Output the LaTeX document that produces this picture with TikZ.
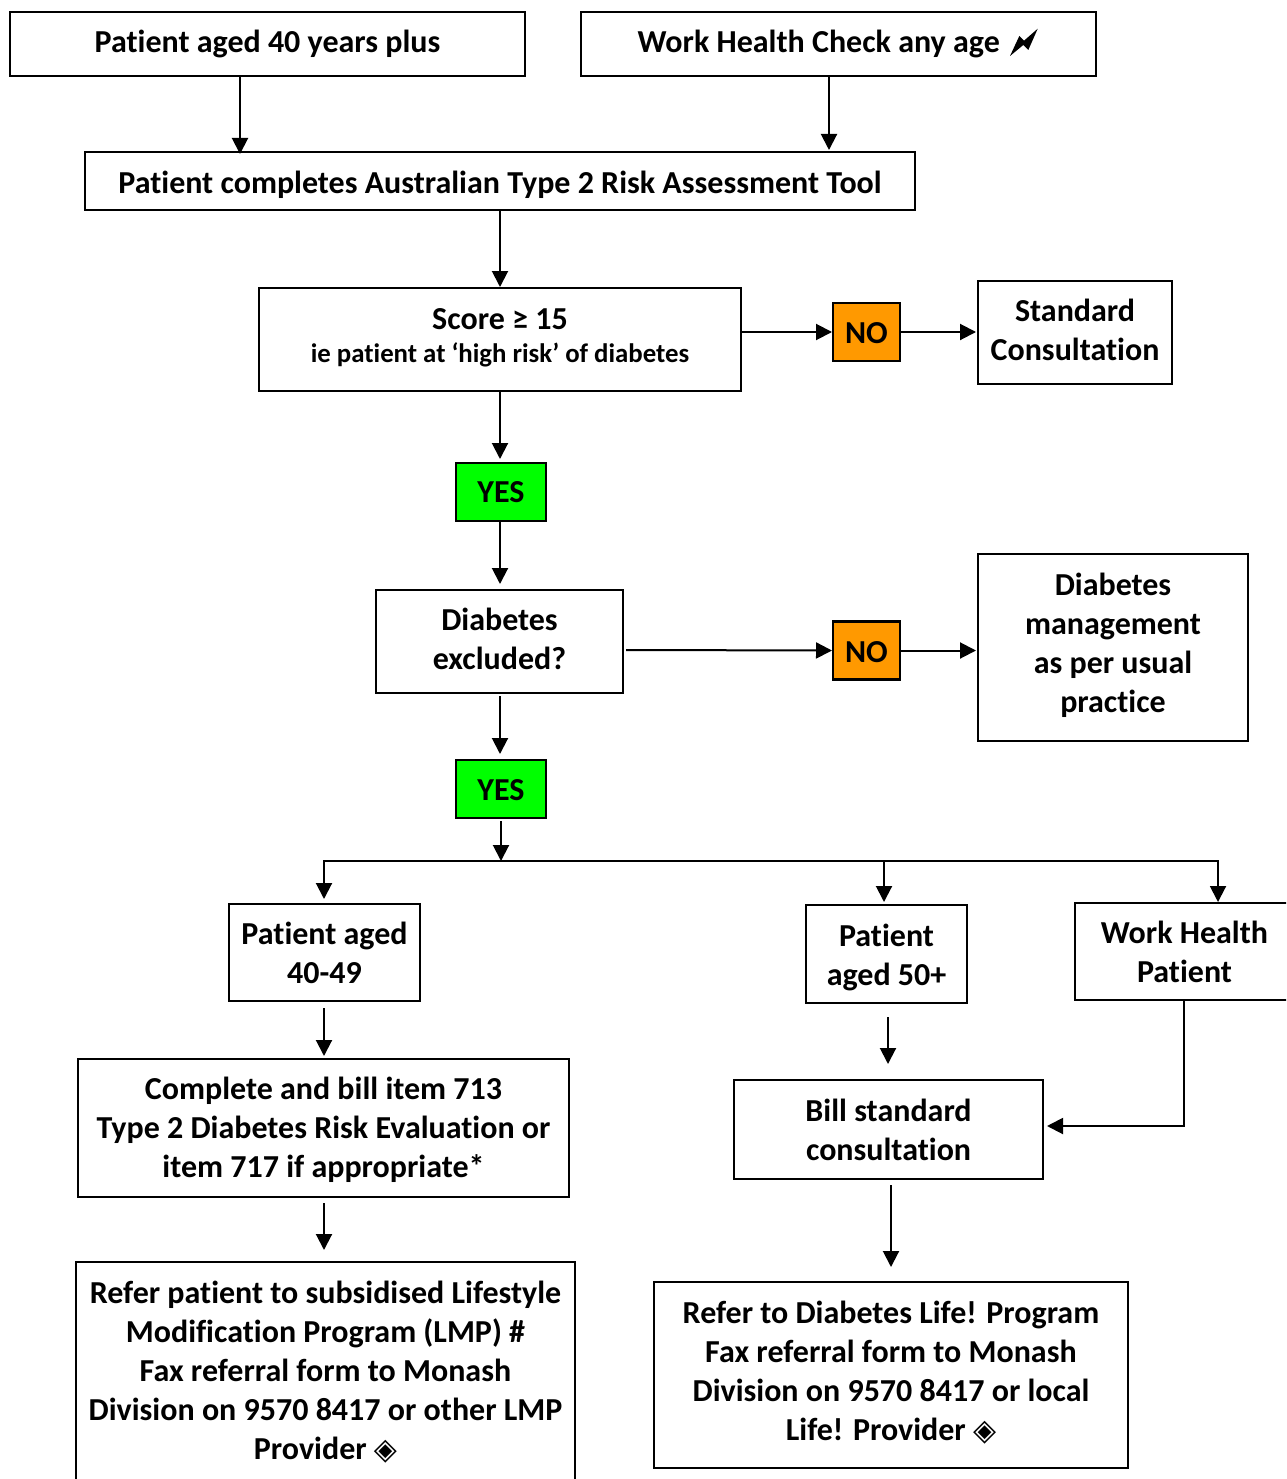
\documentclass[tikz,border=0pt]{standalone}
\usepackage{fontspec}
\setmainfont{Carlito}[RawFeature={-liga;-clig;-calt;-dlig}]
\newfontfamily\symfont{DejaVu Sans}
\usetikzlibrary{arrows.meta}
\newcommand{\dmd}{{\symfont\fontsize{30}{30}\selectfont ◈}}
\newcommand{\tx}[2]{\raisebox{\dimexpr-8pt-#1pt\relax}[0pt][0pt]{\begin{tabular}{@{}c@{}}#2\end{tabular}}}
\tikzset{
  box/.style={draw=black,line width=2.9pt,fill=white,inner sep=0pt,outer sep=0pt,align=center,font=\fontsize{32}{39}\bfseries\selectfont},
  nobox/.style={box,fill=orange1,minimum width=67pt,minimum height=58pt},
  yesbox/.style={box,fill=green1,minimum width=90pt,minimum height=58pt},
  arr/.style={draw=black,line width=2pt,-{Triangle[length=16pt,width=16pt]}},
}
\definecolor{orange1}{HTML}{FF9900}
\definecolor{green1}{HTML}{00FF00}
\begin{document}
\begin{tikzpicture}[x=1pt,y=-1pt]
\path[use as bounding box,clip] (0,0) rectangle (1286,1479);
\fill[white] (0,0) rectangle (1286,1479);
\node[box,minimum width=515pt,minimum height=64pt] (A) at (267.5,44) {\tx{-1}{Patient aged 40 years plus}};
\node[box,minimum width=515pt,minimum height=64pt] (B) at (838.5,44) {};
\node[font=\fontsize{32}{39}\bfseries\selectfont,anchor=east,inner sep=0pt] (Bt) at (1000,44) {\tx{-1}{Work Health Check any age}};
\fill[black] (1010,56) -- (1019.3,36) -- (1024,40.7) -- (1037.7,28.7) -- (1028.3,50) -- (1023.3,45) -- cycle;
\node[box,minimum width=830pt,minimum height=58pt] (C) at (500,181) {\tx{3}{Patient completes Australian Type 2 Risk Assessment Tool}};
\node[box,minimum width=482pt,minimum height=103pt] (D) at (500,339.5) {\tx{-3}{Score ≥ 15\\[-6pt]{\fontsize{26.8}{32}\selectfont ie patient at ‘high risk’ of diabetes}}};
\node[nobox] (N1) at (866.5,332) {\tx{2}{NO}};
\node[box,minimum width=194pt,minimum height=103pt] (S) at (1075,332.5) {\tx{-1}{Standard\\Consultation}};
\node[yesbox] (Y1) at (501,492) {\tx{1}{YES}};
\node[box,minimum width=247pt,minimum height=103pt] (E) at (499.5,641.5) {\tx{-1}{Diabetes\\excluded?}};
\node[nobox] (N2) at (866.5,650.5) {\tx{2}{NO}};
\node[box,minimum width=270pt,minimum height=187pt] (M) at (1113,647.5) {\tx{-3}{Diabetes\\management\\as per usual\\practice}};
\node[yesbox] (Y2) at (501,789) {\tx{2}{YES}};
\coordinate (bus) at (501,861);
\node[box,minimum width=191pt,minimum height=97pt] (P1) at (324.5,952.5) {\tx{2}{Patient aged\\40-49}};
\node[box,minimum width=161pt,minimum height=98pt] (P2) at (886.5,954) {\tx{2}{Patient\\aged 50+}};
\node[box,minimum width=219pt,minimum height=97pt,anchor=west] (W) at (1075,951.5) {};
\node[font=\fontsize{32}{39}\bfseries\selectfont,align=center,inner sep=0pt] (Wt) at (1184.5,951.5) {\tx{2}{Work Health\\Patient}};
\node[box,minimum width=491pt,minimum height=138pt] (K) at (323.5,1128) {\tx{1}{Complete and bill item 713\\Type 2 Diabetes Risk Evaluation or\\item 717 if appropriate*}};
\node[box,minimum width=309pt,minimum height=99pt] (L) at (888.5,1129.5) {\tx{2}{Bill standard\\consultation}};
\node[box,minimum width=499pt,minimum height=255pt] (R1) at (325.5,1389.5) {\tx{-18}{Refer patient to subsidised Lifestyle\\Modification Program (LMP) \#\\Fax referral form to Monash\\Division on 9570 8417 or other LMP\\Provider \dmd}};
\node[box,minimum width=474pt,minimum height=186pt] (R2) at (891,1375) {\tx{-3}{Refer to Diabetes Life! Program\\Fax referral form to Monash\\Division on 9570 8417 or local\\Life! Provider \dmd}};
% connectors
\draw[arr] ([xshift=-27.5pt]A.south) -- ([xshift=-260pt,yshift=-2pt]C.north);
\draw[arr] ([xshift=-9.5pt]B.south) -- ([xshift=329pt,yshift=2pt]C.north);
\draw[arr] (C.south) -- ([yshift=1pt]D.north);
\draw[arr] ([yshift=7.5pt]D.east) -- ([xshift=-1pt]N1.west);
\draw[arr] (N1.east) -- ([xshift=-2pt]N1.east -| S.west);
\draw[arr] (D.south) -- ([xshift=-1pt,yshift=4pt]Y1.north);
\draw[arr] ([xshift=-1pt]Y1.south) -- ([xshift=.5pt,yshift=6pt]E.north);
\draw[arr] ([xshift=3pt,yshift=-8.5pt]E.east) -- ([xshift=-1pt]N2.west);
\draw[arr] (N2.east) -- ([xshift=-2pt]N2.east -| M.west);
\draw[arr] ([xshift=.5pt,yshift=-3pt]E.south) -- ([xshift=-1pt,yshift=6pt]Y2.north);
\draw[arr] ([yshift=-3pt]Y2.south) -- (bus);
\draw[arr] (bus) -| ([xshift=-.5pt,yshift=5pt]P1.north);
\draw[arr] (bus) -| ([xshift=-2.5pt,yshift=3pt]P2.north);
\draw[arr] (bus) -| ([xshift=33.5pt,yshift=1pt]Wt.center |- W.north);
\draw[arr] ([xshift=-.5pt,yshift=-7pt]P1.south) -- ([xshift=-.5pt,yshift=3pt]P1.south |- K.north);
\draw[arr] ([xshift=.5pt,yshift=-6pt]K.south) -- ([xshift=.5pt,yshift=12pt]K.south |- R1.north);
\draw[arr] ([xshift=1.5pt,yshift=-14pt]P2.south) -- ([xshift=1.5pt,yshift=16pt]P2.south |- L.north);
\draw[arr] ([xshift=2.5pt,yshift=-6pt]L.south) -- ([yshift=15pt]R2.north);
\draw[arr] ([xshift=-.5pt]Wt.center |- W.south) |- ([xshift=4pt,yshift=3.5pt]L.east);
\end{tikzpicture}
\end{document}
